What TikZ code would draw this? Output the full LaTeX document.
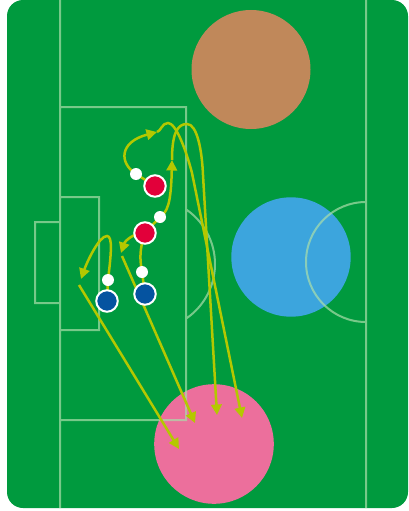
\documentclass[tikz,border=0pt]{standalone}
\usetikzlibrary{arrows.meta}
\definecolor{fieldgreen}{HTML}{009A3E}
\definecolor{zonebrown}{HTML}{C0885A}
\definecolor{zoneblue}{HTML}{3CA5DD}
\definecolor{zonepink}{HTML}{EC6F9C}
\definecolor{linegreen}{RGB}{170,222,170}
\definecolor{movec}{HTML}{B4C800}
\definecolor{redc}{HTML}{E2003A}
\definecolor{bluec}{HTML}{0553A0}
\begin{document}
\begin{tikzpicture}[x=1pt,y=-1pt,
  pitch/.style={draw=linegreen,draw opacity=0.7,line width=2pt},
  move/.style={draw=movec,line width=2.5pt},
  movearr/.style={move,-{Triangle[length=10.5pt,width=10.5pt]}},
  redp/.style={circle,fill=redc,draw=white,line width=2pt,minimum size=21.5pt,inner sep=0pt},
  bluep/.style={circle,fill=bluec,draw=white,line width=2pt,minimum size=21.5pt,inner sep=0pt},
  ballp/.style={circle,fill=white,minimum size=12pt,inner sep=0pt}]
\useasboundingbox (0,0) rectangle (408,511);
% field
\fill[fieldgreen,rounded corners=16pt] (7,0) rectangle (408,508);
% zones
\fill[zonebrown] (251,69.5) circle[radius=59.5];
\fill[zoneblue] (291,257) circle[radius=59.7];
\fill[zonepink] (214,444) circle[radius=59.8];
% pitch markings
\draw[pitch] (60,0) -- (60,508)
  (366,0) -- (366,508)
  (60,107) -| (186,420) -- (60,420)
  (60,197) -| (99,330) -- (60,330)
  (60,222) -| (35,303) -- (60,303)
  (149,264) ++(-55:66) arc[start angle=-55,end angle=55,radius=66]
  (366,262) ++(90:60) arc[start angle=90,end angle=270,radius=60];
% positions
\coordinate (r1) at (155,186);
\coordinate (w1) at (136,174);
\coordinate (r2) at (145,233);
\coordinate (w2) at (160,217);
\coordinate (b1) at (107,301);
\coordinate (w3) at (108,280);
\coordinate (b2) at (145,294);
\coordinate (w4) at (142,272);
\coordinate (a1) at (157,132);
\coordinate (hA) at (168,123);
\coordinate (kA) at (192,173);
\coordinate (tA) at (242,418);
\coordinate (a2) at (172,160);
\coordinate (hB) at (187,124);
\coordinate (kB) at (203,175);
\coordinate (tB) at (217,415);
\coordinate (a3) at (121,253);
\coordinate (sD) at (122,256);
\coordinate (tD) at (195,423);
\coordinate (hF) at (107,236);
\coordinate (a4) at (81,279);
\coordinate (sG) at (79,285);
\coordinate (tG) at (179,449);
% moves
\draw[movearr] (r1) -- (w1) .. controls (119,163) and (119,142) .. (a1);
\draw[movearr] (a1) .. controls (161,131) and (162,123) .. (hA) .. controls (176,123) and (186,150) .. (kA) -- (tA);
\draw[movearr] (r2) -- (w2) .. controls (167,212) and (171,205) .. (a2);
\draw[movearr] (a2) .. controls (172,132) and (178,124) .. (hB) .. controls (197,124) and (202,150) .. (kB) -- (tB);
\draw[movearr] (r2) .. controls (133,233) and (125,241) .. (a3);
\draw[movearr] (sD) -- (tD);
\draw[move] (b2) -- (w4) .. controls (140,260) and (139,250) .. (r2);
\draw[movearr] (b1) -- (w3) .. controls (111,255) and (113,236) .. (hF) .. controls (99,236) and (87,262) .. (a4);
\draw[movearr] (sG) -- (tG);
% players and balls
\node[ballp] (ball1) at (w1) {};
\node[ballp] (ball2) at (w2) {};
\node[ballp] (ball3) at (w3) {};
\node[ballp] (ball4) at (w4) {};
\node[redp] (red1) at (r1) {};
\node[redp] (red2) at (r2) {};
\node[bluep] (blue1) at (b1) {};
\node[bluep] (blue2) at (b2) {};
\end{tikzpicture}
\end{document}
